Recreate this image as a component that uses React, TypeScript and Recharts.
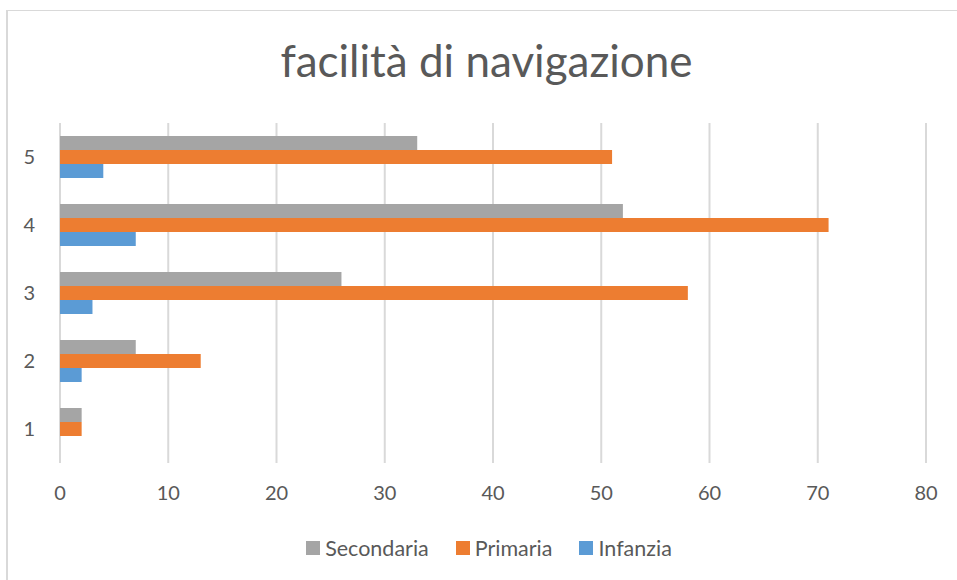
import React from "react";
import { BarChart, Bar, XAxis, YAxis, CartesianGrid, Legend } from "recharts";

const categories = ["1", "2", "3", "4", "5"];
const secondaria = [2, 7, 26, 52, 33];
const primaria = [2, 13, 58, 71, 51];
const infanzia = [0, 2, 3, 7, 4];
const xTicks = [0, 10, 20, 30, 40, 50, 60, 70, 80];

const seriesNames = ["Secondaria", "Primaria", "Infanzia"];
const seriesColors = ["#A5A5A5", "#ED7D31", "#5B9BD5"];

const data = categories.map((c, i) => ({
  cat: c,
  Secondaria: secondaria[i],
  Primaria: primaria[i],
  Infanzia: infanzia[i],
}));

const FONT = "Lato, 'Noto Sans', sans-serif";
const TEXT = "#595959";

const LegendContent = () => (
  <div style={{ display: "flex", justifyContent: "center", alignItems: "center", height: 30, fontFamily: FONT, fontSize: 21.5, color: TEXT, paddingLeft: 52 }}>
    {seriesNames.map((n, i) => (
      <div key={n} style={{ display: "flex", alignItems: "center", marginRight: i < 2 ? 27 : 0 }}>
        <span style={{ display: "inline-block", width: 14, height: 14, background: seriesColors[i], marginRight: 5 }} />
        <span>{n}</span>
      </div>
    ))}
  </div>
);

export default function App() {
  return (
    <div style={{ position: "absolute", left: 0, top: 0, width: 957, height: 580, background: "#fff", overflow: "hidden" }}>
      <div style={{ position: "absolute", left: 6, top: 10, width: 1000, height: 600, borderLeft: "2px solid #d9d9d9", borderTop: "1px solid #d9d9d9" }} />
      <div style={{ position: "absolute", left: 0, top: 34, width: 973, textAlign: "center", fontFamily: FONT, fontSize: 44, color: TEXT, lineHeight: "52px" }}>
        facilità di navigazione
      </div>
      <div style={{ position: "absolute", left: 0, top: 0 }}>
        <BarChart
          width={957}
          height={580}
          data={data}
          layout="vertical"
          margin={{ top: 123, right: 31, left: 0, bottom: 17 }}
          barCategoryGap={13}
          barGap={0}
        >
          <CartesianGrid horizontal={false} stroke="#d9d9d9" strokeWidth={2} />
          <XAxis
            type="number"
            domain={[0, 80]}
            ticks={xTicks}
            axisLine={false}
            tickLine={false}
            tickSize={0}
            tickMargin={23}
            height={70}
            interval={0}
            tick={{ fill: TEXT, fontSize: 20, fontFamily: FONT }}
          />
          <YAxis
            type="category"
            dataKey="cat"
            reversed
            width={60}
            axisLine={false}
            tickLine={false}
            tickSize={0}
            tickMargin={25}
            tick={{ fill: TEXT, fontSize: 20, fontFamily: FONT }}
          />
          <Legend verticalAlign="bottom" height={30} content={<LegendContent />} />
          {seriesNames.map((n, i) => (
            <Bar key={n} dataKey={n} fill={seriesColors[i]} isAnimationActive={false} />
          ))}
        </BarChart>
      </div>
    </div>
  );
}
